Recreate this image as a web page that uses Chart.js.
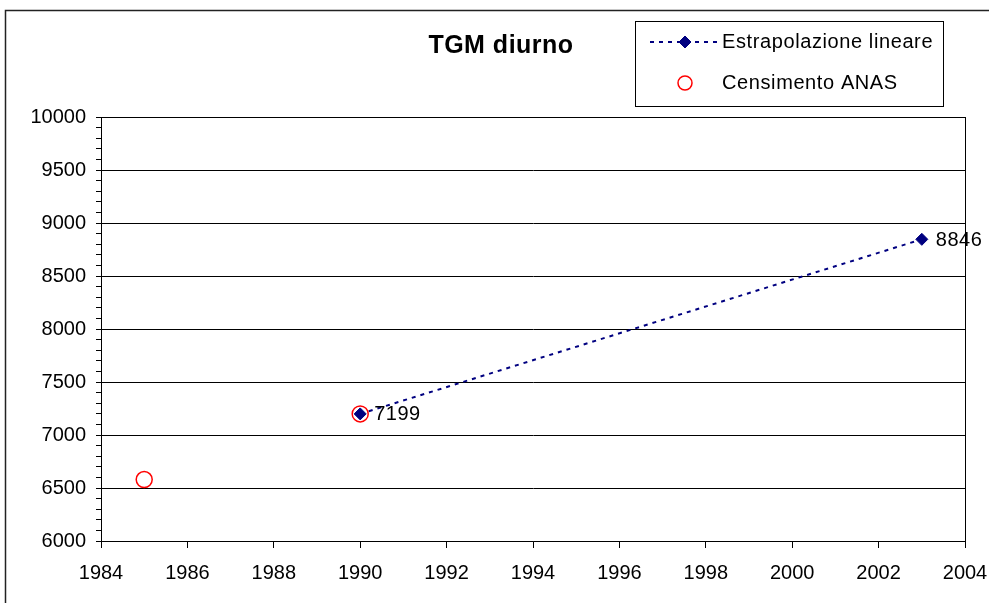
<!DOCTYPE html>
<html>
<head>
<meta charset="utf-8">
<script src="https://cdn.jsdelivr.net/npm/chart.js@4/dist/chart.umd.min.js"></script>
<style>
  html, body { margin: 0; padding: 0; background: #fff; }
  #wrap { width: 989px; height: 603px; position: relative; }
</style>
</head>
<body>
<div id="wrap"><canvas id="c" width="989" height="603"></canvas></div>
<script>
// Daily average traffic (TGM diurno)
const chartTitle = 'TGM diurno';
const seriesNames = ['Estrapolazione lineare', 'Censimento ANAS'];

// Linear extrapolation between the two reference years
const trendYears = [1990, 2003];
const trendValues = [7199, 8846];

// ANAS traffic census counts
const surveyYears = [1985, 1990];
const surveyValues = [6580, 7199];

// Axis ranges
const yearRange = [1984, 2004];
const yearStep = 2;
const valueRange = [6000, 10000];
const valueMajorStep = 500;
const valueMinorStep = 100;

const FONT = "'Liberation Sans', Arial, Helvetica, sans-serif";
const NAVY = '#000080';
const RED = '#ff0000';

const toPoints = (xs, ys) => xs.map((x, i) => ({ x: x, y: ys[i] }));

const decorations = {
  id: 'decorations',
  beforeDraw(chart) {
    const ctx = chart.ctx;
    ctx.save();
    ctx.fillStyle = '#fff';
    ctx.fillRect(0, 0, chart.width, chart.height);
    // outer frame of the chart object
    ctx.strokeStyle = '#222';
    ctx.lineWidth = 1.5;
    ctx.strokeRect(5.5, 10.5, chart.width + 20, chart.height + 20);
    ctx.restore();
  },
  beforeDatasetsDraw(chart) {
    const ctx = chart.ctx;
    const a = chart.chartArea;
    ctx.save();
    ctx.strokeStyle = '#000';
    ctx.lineWidth = 1;
    ctx.beginPath();
    ctx.moveTo(Math.round(a.right) + 0.5, a.top);
    ctx.lineTo(Math.round(a.right) + 0.5, a.bottom);
    ctx.moveTo(a.left, Math.round(a.top) + 0.5);
    ctx.lineTo(a.right, Math.round(a.top) + 0.5);
    ctx.stroke();
    ctx.restore();
  },
  afterDraw(chart) {
    const ctx = chart.ctx;
    ctx.save();

    // title
    ctx.fillStyle = '#000';
    ctx.font = 'bold 25px ' + FONT;
    ctx.letterSpacing = '0.5px';
    ctx.textAlign = 'center';
    ctx.textBaseline = 'middle';
    ctx.fillText(chartTitle, 501, 46);

    // value labels next to the extrapolated points
    ctx.font = '20px ' + FONT;
    ctx.letterSpacing = '0.5px';
    ctx.textAlign = 'left';
    const meta = chart.getDatasetMeta(0);
    meta.data.forEach((pt, i) => {
      ctx.fillText(String(trendValues[i]), pt.x + 14, pt.y + 1);
    });

    // legend box
    ctx.letterSpacing = '0px';
    ctx.strokeStyle = '#000';
    ctx.lineWidth = 1;
    ctx.strokeRect(635.5, 21.5, 308, 85);

    const trendDs = chart.data.datasets[0];
    const surveyDs = chart.data.datasets[1];

    ctx.strokeStyle = trendDs.borderColor;
    ctx.lineWidth = trendDs.borderWidth;
    ctx.setLineDash(trendDs.borderDash);
    ctx.beginPath();
    ctx.moveTo(650, 42);
    ctx.lineTo(718, 42);
    ctx.stroke();
    ctx.setLineDash([]);

    ctx.fillStyle = trendDs.pointBackgroundColor;
    ctx.strokeStyle = trendDs.pointBorderColor;
    ctx.lineWidth = trendDs.pointBorderWidth;
    Chart.helpers.drawPoint(ctx, {
      pointStyle: trendDs.pointStyle, radius: trendDs.pointRadius, rotation: 0,
      borderWidth: trendDs.pointBorderWidth
    }, 685, 42);

    ctx.strokeStyle = surveyDs.pointBorderColor;
    ctx.lineWidth = surveyDs.pointBorderWidth;
    ctx.beginPath();
    ctx.arc(685, 83, surveyDs.pointRadius - 1, 0, Math.PI * 2);
    ctx.stroke();

    ctx.fillStyle = '#000';
    ctx.font = '20px ' + FONT;
    ctx.letterSpacing = '0.6px';
    ctx.textAlign = 'left';
    ctx.textBaseline = 'middle';
    ctx.fillText(seriesNames[0], 722, 42);
    ctx.fillText(seriesNames[1], 722, 83);

    ctx.restore();
  }
};

new Chart(document.getElementById('c'), {
  type: 'line',
  data: {
    datasets: [
      {
        label: seriesNames[0],
        data: toPoints(trendYears, trendValues),
        borderColor: NAVY,
        borderWidth: 2,
        borderDash: [4, 5],
        pointStyle: 'rectRot',
        pointRadius: 6,
        pointBackgroundColor: NAVY,
        pointBorderColor: NAVY,
        pointBorderWidth: 1,
        fill: false,
        tension: 0
      },
      {
        label: seriesNames[1],
        data: toPoints(surveyYears, surveyValues),
        showLine: false,
        pointStyle: 'circle',
        pointRadius: 8,
        pointBackgroundColor: 'rgba(0,0,0,0)',
        pointBorderColor: RED,
        pointBorderWidth: 1.5
      }
    ]
  },
  options: {
    responsive: false,
    animation: false,
    devicePixelRatio: 1,
    layout: { padding: { top: 117, right: 24, bottom: 0, left: 0 } },
    plugins: {
      legend: { display: false },
      title: { display: false },
      tooltip: { enabled: false }
    },
    scales: {
      x: {
        type: 'linear',
        min: yearRange[0],
        max: yearRange[1],
        afterFit(scale) {
          scale.height = 62;
          scale.paddingLeft = 0;
          scale.paddingRight = 0;
        },
        ticks: {
          stepSize: yearStep,
          color: '#000',
          font: { family: FONT, size: 20 },
          padding: 13,
          maxRotation: 0,
          autoSkip: false,
          callback: v => String(v)
        },
        grid: {
          drawOnChartArea: false,
          tickColor: '#000',
          tickLength: 7
        },
        border: { color: '#000', width: 1 }
      },
      y: {
        type: 'linear',
        min: valueRange[0],
        max: valueRange[1],
        afterFit(scale) {
          scale.width = 101;
          scale.paddingTop = 0;
          scale.paddingBottom = 0;
        },
        ticks: {
          stepSize: valueMinorStep,
          autoSkip: false,
          color: '#000',
          font: { family: FONT, size: 20 },
          padding: 10,
          callback: v => (v % valueMajorStep === 0 ? String(v) : '')
        },
        grid: {
          color: c => (c.tick && c.tick.value % valueMajorStep === 0 ? '#000' : 'rgba(0,0,0,0)'),
          tickColor: '#000',
          tickLength: 5,
          lineWidth: 1
        },
        border: { color: '#000', width: 1 }
      }
    }
  },
  plugins: [decorations]
});
</script>
</body>
</html>
